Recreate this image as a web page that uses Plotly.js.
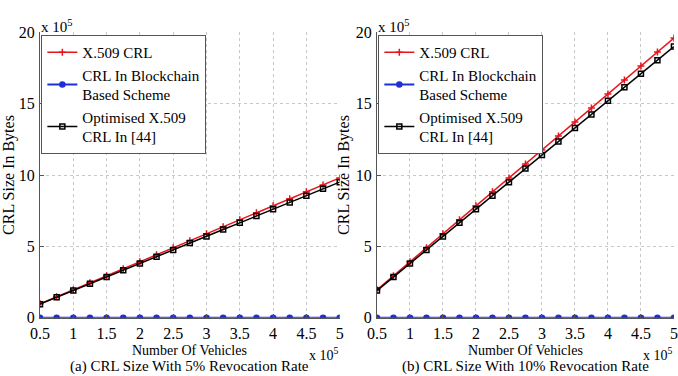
<!DOCTYPE html>
<html>
<head>
<meta charset="utf-8">
<script src="https://cdn.plot.ly/plotly-3.0.1.min.js"></script>
<style>
html,body{margin:0;padding:0;background:#fff;}
#chart{width:678px;height:376px;}
</style>
</head>
<body>
<div id="chart"></div>
<script>
// Number of vehicles (x 10^5)
const vehicles = [0.5,0.75,1,1.25,1.5,1.75,2,2.25,2.5,2.75,3,3.25,3.5,3.75,4,4.25,4.5,4.75,5];
// CRL size in bytes (x 10^5), 5% revocation rate
const x509_5 = [0.98,1.47,1.96,2.45,2.94,3.43,3.92,4.41,4.90,5.39,5.88,6.37,6.86,7.35,7.84,8.33,8.82,9.31,9.80];
const block_5 = [0,0,0,0,0,0,0,0,0,0,0,0,0,0,0,0,0,0,0];
const opt_5 = [0.95,1.43,1.90,2.38,2.85,3.33,3.80,4.28,4.75,5.23,5.70,6.18,6.65,7.13,7.60,8.08,8.55,9.03,9.50];
// CRL size in bytes (x 10^5), 10% revocation rate
const x509_10 = [1.96,2.94,3.92,4.90,5.88,6.86,7.84,8.82,9.80,10.78,11.76,12.74,13.72,14.70,15.68,16.66,17.64,18.62,19.60];
const block_10 = [0,0,0,0,0,0,0,0,0,0,0,0,0,0,0,0,0,0,0];
const opt_10 = [1.90,2.85,3.80,4.75,5.70,6.65,7.60,8.55,9.50,10.45,11.40,12.35,13.30,14.25,15.20,16.15,17.10,18.05,19.00];
const names = ["X.509 CRL", "CRL In Blockchain<br>Based Scheme", "Optimised X.509<br>CRL In [44]"];
const xTicks = [0.5,1,1.5,2,2.5,3,3.5,4,4.5,5];
const yTicks = [0,5,10,15,20];
const captions = ["(a) CRL Size With 5% Revocation Rate", "(b) CRL Size With 10% Revocation Rate"];

const font = "Liberation Serif";
function series(xa, ya, y, i, show) {
  const styles = [
    {color:"#e8141b", symbol:"cross-thin-open", size:5},
    {color:"#1f2fd6", symbol:"circle", size:5},
    {color:"#000000", symbol:"square-open", size:5}
  ];
  const s = styles[i];
  return {x: vehicles, y: y, xaxis: xa, yaxis: ya, type: "scatter", mode: "lines+markers",
    name: names[i], showlegend: show, legend: xa === "x" ? "legend" : "legend2",
    line: {color: s.color, width: i === 1 ? 2 : 1.5},
    marker: {color: s.color, symbol: s.symbol, size: s.size, line: {color: s.color, width: 1.5}}};
}
const data = [
  series("x","y",x509_5,0,true), series("x","y",block_5,1,true), series("x","y",opt_5,2,true),
  series("x2","y2",x509_10,0,true), series("x2","y2",block_10,1,true), series("x2","y2",opt_10,2,true)
];
function xax(domain) {
  return {domain: domain, range: [0.5,5], tickvals: xTicks, ticktext: xTicks.map(String),
    showline: true, linecolor: "#555", linewidth: 1, mirror: false, ticklabeloverflow: "allow",
    showgrid: true, gridcolor: "#c8c8c8", griddash: "dot", gridwidth: 1,
    ticks: "inside", ticklen: 4, tickcolor: "#555", zeroline: false, ticklabelstandoff: 1,
    tickfont: {family: font, size: 16, color: "#000"}};
}
function yax(anchor) {
  return {domain: [0.155, 0.914], range: [0,20], tickvals: yTicks, anchor: anchor,
    showline: true, linecolor: "#555", linewidth: 1, mirror: false,
    showgrid: true, gridcolor: "#c8c8c8", griddash: "dot", gridwidth: 1,
    ticks: "inside", ticklen: 4, tickcolor: "#555", zeroline: false, ticklabelstandoff: 1,
    tickfont: {family: font, size: 16, color: "#000"},
    title: {text: "CRL Size In Bytes", font: {family: font, size: 16, color: "#000"}, standoff: 2}};
}
const legendBase = {font: {family: font, size: 15, color: "#000"}, bgcolor: "#fff",
  bordercolor: "#555", borderwidth: 1, xanchor: "left", yanchor: "top", tracegroupgap: 0,
  itemwidth: 30};
const anns = [];
[0, 1].forEach((i) => {
  const xr = "x" + (i ? "2" : "") + " domain";
  anns.push({xref: xr, yref: "paper", x: 0.5, y: 0.068, text: "Number Of Vehicles", showarrow: false,
    font: {family: font, size: 14, color: "#000"}, yanchor: "middle", borderpad: 0});
  anns.push({xref: xr, yref: "paper", x: 0.5, y: 0.024, text: captions[i], showarrow: false,
    font: {family: font, size: 15, color: "#000"}, yanchor: "middle", borderpad: 0});
  anns.push({xref: xr, yref: "paper", x: 1.0, y: 0.058, text: "x 10<sup>5</sup>", showarrow: false,
    font: {family: font, size: 14, color: "#000"}, xanchor: "right", yanchor: "middle", borderpad: 0});
  anns.push({xref: xr, yref: "paper", x: 0.0, y: 0.93, text: "x 10<sup>5</sup>", showarrow: false,
    font: {family: font, size: 15, color: "#000"}, xanchor: "left", yanchor: "middle", borderpad: 0});
});
const layout = {
  width: 678, height: 376, margin: {l: 0, r: 0, t: 0, b: 0},
  font: {family: font},
  paper_bgcolor: "#fff", plot_bgcolor: "#fff",
  xaxis: xax([0.059,0.501]), yaxis: yax("x"),
  xaxis2: xax([0.556,0.994]), yaxis2: yax("x2"),
  legend: Object.assign({x: 0.061, y: 0.907}, legendBase),
  legend2: Object.assign({x: 0.558, y: 0.907}, legendBase),
  annotations: anns, showlegend: true
};
Plotly.newPlot("chart", data, layout, {staticPlot: true});
</script>
</body>
</html>
